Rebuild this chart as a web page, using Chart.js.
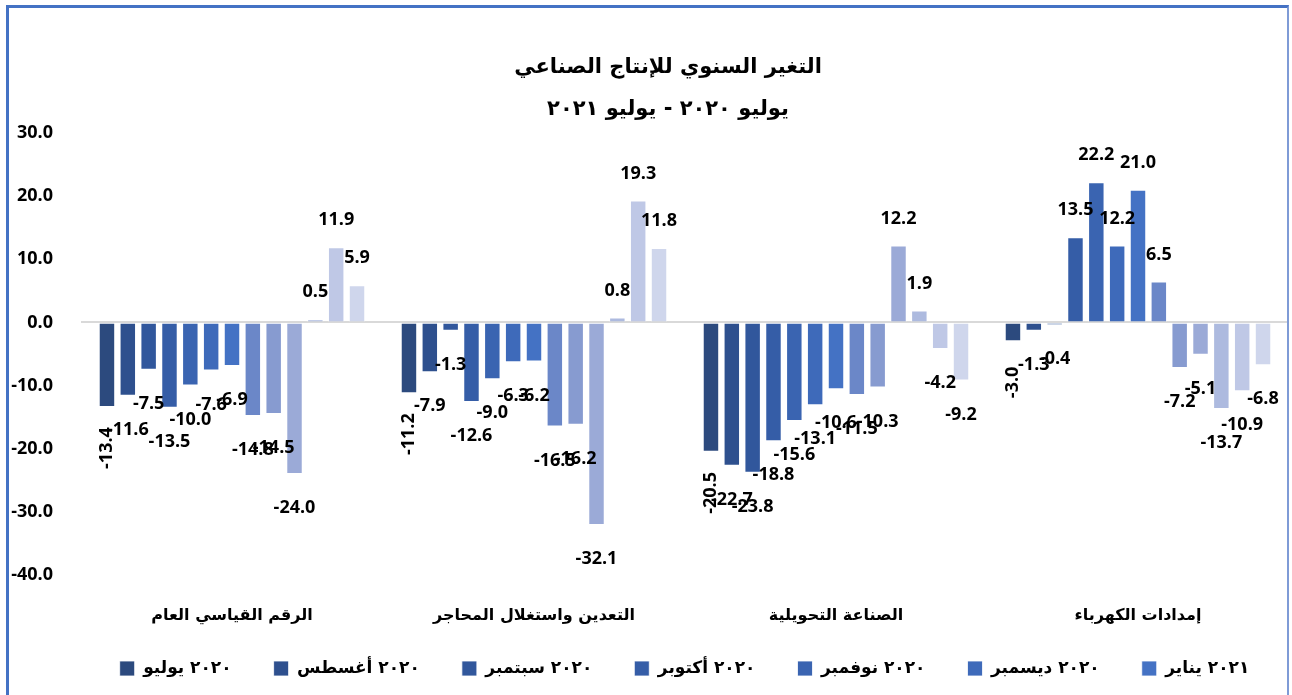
<!DOCTYPE html>
<html>
<head>
<meta charset="utf-8">
<script src="https://cdn.jsdelivr.net/npm/chart.js@4.4.1/dist/chart.umd.min.js"></script>
<style>
  body { margin: 0; background: #fff; overflow: hidden; }
  #wrap { position: relative; width: 1292px; height: 695px; }
  #frame {
    position: absolute; left: 6px; top: 5px; width: 1278px; height: 720px;
    border-left: 3px solid #4472c4; border-top: 3px solid #4472c4; border-right: 2px solid #7f9bd6;
    pointer-events: none;
  }
</style>
</head>
<body>
<div id="wrap">
  <canvas id="chart" width="1292" height="695"></canvas>
  <div id="frame"></div>
</div>
<script>
// categories (x axis)
var sectors = ['الرقم القياسي العام', 'التعدين واستغلال المحاجر', 'الصناعة التحويلية', 'إمدادات الكهرباء'];

// month names (series)
var months = ['٢٠٢٠ يوليو', '٢٠٢٠ أغسطس', '٢٠٢٠ سبتمبر', '٢٠٢٠ أكتوبر', '٢٠٢٠ نوفمبر', '٢٠٢٠ ديسمبر',
  '٢٠٢١ يناير', '٢٠٢١ فبراير', '٢٠٢١ مارس', '٢٠٢١ أبريل', '٢٠٢١ مايو', '٢٠٢١ يونيو', '٢٠٢١ يوليو'];

// yearly change, one array per month, values in sector order
var jul20 = [-13.4, -11.2, -20.5, -3.0];
var aug20 = [-11.6, -7.9, -22.7, -1.3];
var sep20 = [-7.5, -1.3, -23.8, -0.4];
var oct20 = [-13.5, -12.6, -18.8, 13.5];
var nov20 = [-10.0, -9.0, -15.6, 22.2];
var dec20 = [-7.6, -6.3, -13.1, 12.2];
var jan21 = [-6.9, -6.2, -10.6, 21.0];
var feb21 = [-14.8, -16.5, -11.5, 6.5];
var mar21 = [-14.5, -16.2, -10.3, -7.2];
var apr21 = [-24.0, -32.1, 12.2, -5.1];
var may21 = [0.5, 0.8, 1.9, -13.7];
var jun21 = [11.9, 19.3, -4.2, -10.9];
var jul21 = [5.9, 11.8, -9.2, -6.8];

var yTicks = [30, 20, 10, 0, -10, -20, -30, -40];

var colors = ['#2c4a7e', '#2e508e', '#31579c', '#355da7', '#3a64b1', '#3e6aba', '#4472c4',
  '#6b87c8', '#879bd0', '#9baad7', '#adbadf', '#bfc8e6', '#cfd6ec'];

var series = [jul20, aug20, sep20, oct20, nov20, dec20, jan21, feb21, mar21, apr21, may21, jun21, jul21];

var numFont = "'Open Sans', 'DejaVu Sans', sans-serif";
var arFont = "'DejaVu Sans', sans-serif";

// title drawn at fixed spot above the plot
var titlePlugin = {
  id: 'arTitle',
  afterDraw: function(chart) {
    var c = chart.ctx;
    c.save();
    c.fillStyle = '#000';
    c.textAlign = 'center';
    c.textBaseline = 'middle';
    c.font = 'bold 21px ' + arFont;
    c.fillText('التغير السنوي للإنتاج الصناعي', 668, 68);
    c.fillText('يوليو ٢٠٢٠ - يوليو ٢٠٢١', 668, 110);
    c.restore();
  }
};

// legend sits a bit closer to the category names and more to the right, like excel
var legendNudge = {
  id: 'legendNudge',
  afterLayout: function(chart) {
    chart.legend.top -= 7;
    chart.legend.bottom -= 7;
    chart.legend.left += 36;
    chart.legend.right += 36;
  }
};

// value labels like excel "outside end"
var labelPlugin = {
  id: 'valLabels',
  afterDatasetsDraw: function(chart) {
    var c = chart.ctx;
    c.save();
    c.fillStyle = '#000';
    c.font = 'bold 18px ' + numFont;
    c.textBaseline = 'middle';
    chart.data.datasets.forEach(function(ds, i) {
      var meta = chart.getDatasetMeta(i);
      meta.data.forEach(function(bar, j) {
        var v = ds.data[j];
        var txt = v.toFixed(1);
        if (i === 0) {
          c.save();
          c.translate(bar.x, bar.y + 41);
          c.rotate(-Math.PI / 2);
          c.textAlign = 'center';
          c.fillText(txt, 0, 0);
          c.restore();
        } else {
          c.textAlign = 'center';
          var y = v >= 0 ? bar.y - 27 : bar.y + 34;
          c.fillText(txt, bar.x, y);
        }
      });
    });
    c.restore();
  }
};

var ctx = document.getElementById('chart').getContext('2d');
var chart = new Chart(ctx, {
  type: 'bar',
  data: {
    labels: sectors,
    datasets: series.map(function(d, i) {
      return {
        label: months[i],
        data: d,
        backgroundColor: colors[i],
        borderColor: 'rgba(255,255,255,0.8)',
        borderWidth: 1,
        categoryPercentage: 0.897,
        barPercentage: 0.79
      };
    })
  },
  options: {
    responsive: false,
    animation: false,
    layout: { padding: { left: 8, right: 3, top: 133, bottom: 1 } },
    scales: {
      x: {
        grid: { display: false, drawTicks: false },
        border: { display: false },
        ticks: { padding: 31, color: '#000', font: { family: arFont, size: 16, weight: 'bold' } },
        afterFit: function(s) { s.height = 50; }
      },
      y: {
        min: -40,
        max: 30,
        afterBuildTicks: function(s) { s.ticks = yTicks.map(function(v) { return { value: v }; }); },
        grid: {
          drawTicks: false,
          lineWidth: 2,
          color: function(c) { return c.tick && c.tick.value === 0 ? '#d9d9d9' : 'rgba(0,0,0,0)'; }
        },
        border: { display: false },
        ticks: {
          padding: 28,
          color: '#000',
          font: { family: numFont, size: 18, weight: 'bold' },
          callback: function(v) { return Number(v).toFixed(1); }
        },
        afterFit: function(s) { s.width = 73; }
      }
    },
    plugins: {
      title: { display: false },
      tooltip: { enabled: false },
      legend: {
        position: 'bottom',
        labels: {
          boxWidth: 15,
          boxHeight: 15,
          padding: 42,
          color: '#000',
          font: { family: arFont, size: 17, weight: 'bold' },
          filter: function(item) { return item.datasetIndex < 7; }
        }
      }
    }
  },
  plugins: [titlePlugin, labelPlugin, legendNudge]
});
</script>
</body>
</html>
